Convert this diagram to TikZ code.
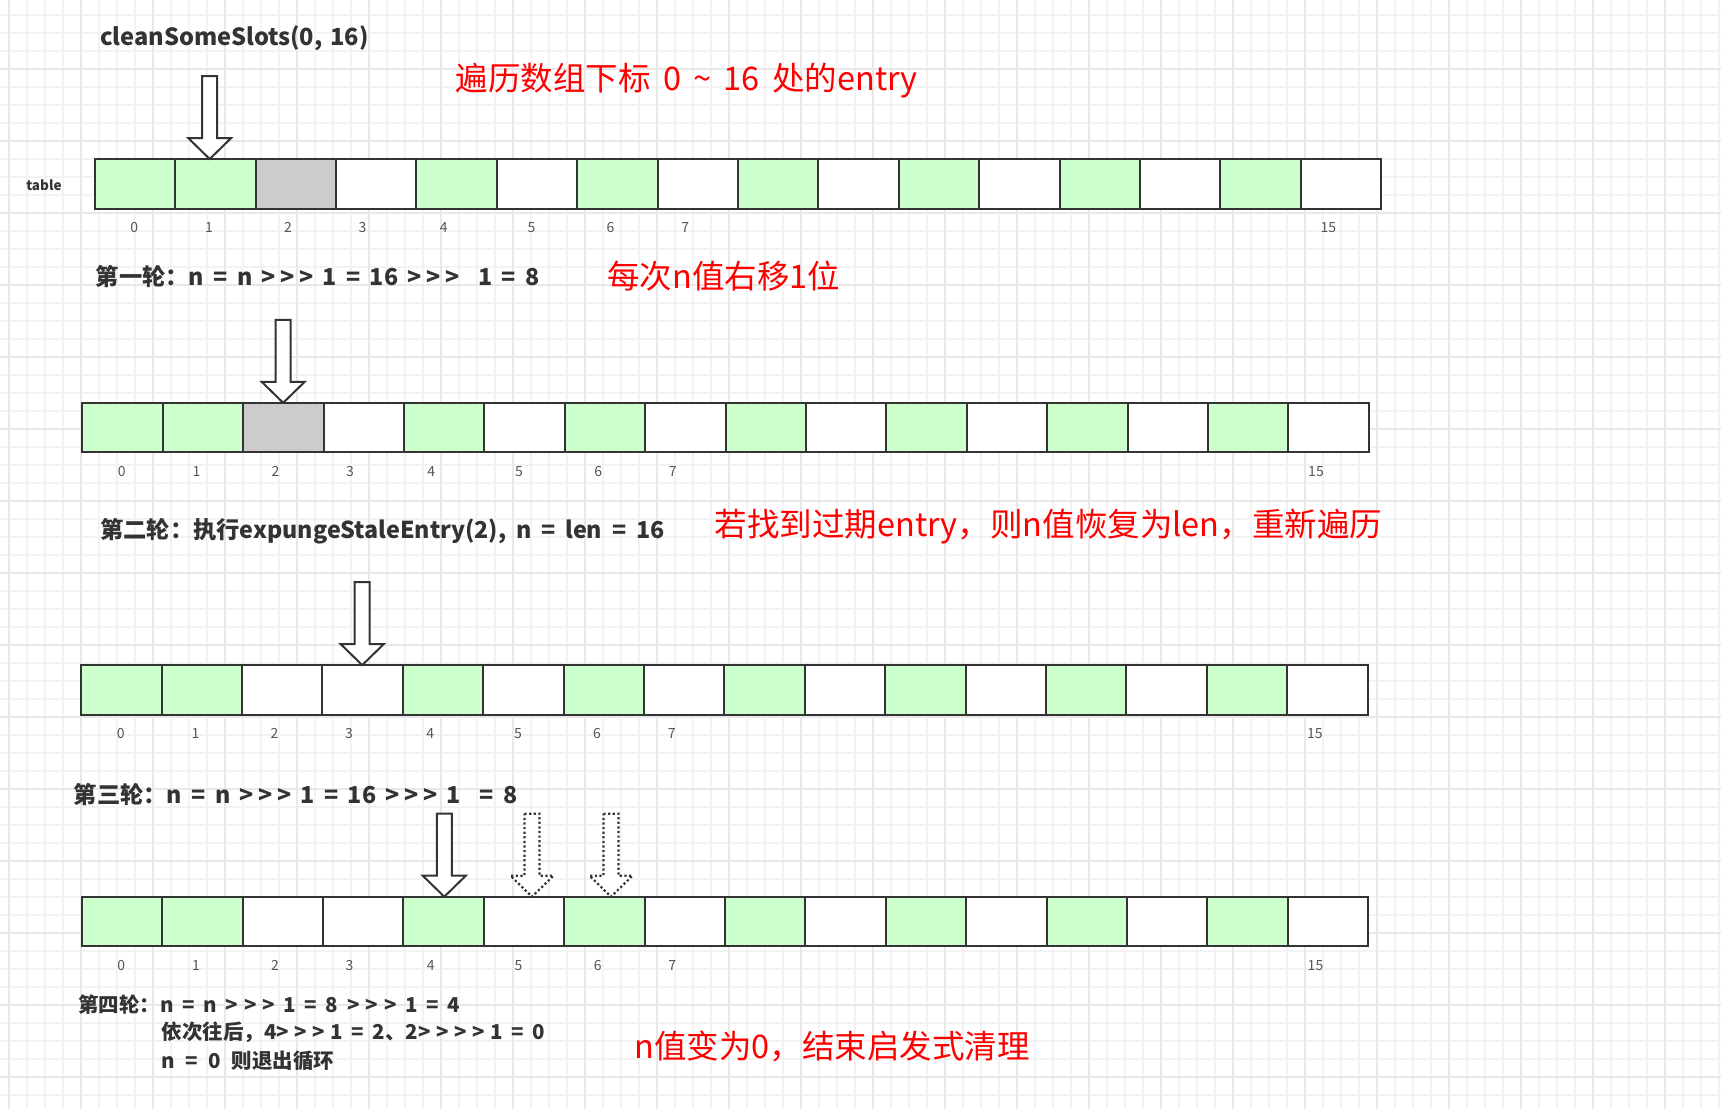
\documentclass[tikz,border=0pt]{standalone}
\usepackage{fontspec}
\setmainfont{Noto Sans CJK SC}[Ligatures=TeXOff]
\definecolor{cgreen}{HTML}{CCFFCC}
\definecolor{cgrey}{HTML}{CCCCCC}
\definecolor{ink}{HTML}{333333}
\definecolor{idxc}{HTML}{555555}
\definecolor{gminor}{HTML}{F3F3F3}
\definecolor{gmajor}{HTML}{E8E8E8}
\definecolor{redtext}{HTML}{FF0000}
\tikzset{
  cell/.style={draw=ink,line width=2pt,minimum width=80.4pt,minimum height=49.5pt,inner sep=0pt,outer sep=0pt,anchor=north west},
  idx/.style={text=idxc,font=\fontsize{14}{15}\selectfont,inner sep=0pt},
  lbl/.style={text=ink,font=\bfseries\fontsize{23.3}{26}\selectfont,inner sep=0pt,anchor=west},
  small/.style={text=ink,font=\bfseries\fontsize{20.5}{23}\selectfont,inner sep=0pt,anchor=west},
  note/.style={text=redtext,font=\fontsize{32.5}{36}\selectfont,inner sep=0pt,anchor=west},
  barrow/.style={draw=ink,line width=2pt,fill=white,line join=miter},
  darrow/.style={draw=ink,line width=2.2pt,dash pattern=on 2.2pt off 2.4pt,fill=white},
  blockarrow/.pic={\path[pic actions] (-7.5,-83) -- (7.5,-83) -- (7.5,-21) -- (21.5,-21) -- (0,0) -- (-21.5,-21) -- (-7.5,-21) -- cycle;}
}
\newcommand\tabrow[4]{%
  \foreach \i/\c in {0/cgreen,1/cgreen,2/#4,3/white,4/cgreen,5/white,6/cgreen,7/white,8/cgreen,9/white,10/cgreen,11/white,12/cgreen,13/white,14/cgreen,15/white}
    \node[cell,fill=\c] (#1c\i) at ({#2+80.4*\i},#3) {};
  \foreach \n/\o in {0/39.5,1/114.2,2/193.2,3/267.8,4/349,5/436.8,6/515.9,7/590.5,15/1233.7}
    \node[idx] (#1i\n) at ({#2+\o},{#3+49.5+19}) {\n};
}
\newcommand\gapsp{\hspace{0.34em}}
\newcommand\wsp{\hspace{0.42em}}
\newcommand\lsp{\hspace{0.4em}}
\newcommand\gk{\kern0.3em}
\newcommand\gkl{\kern0.2em}
\newcommand\gks{\kern0.27em}
\newcommand\nsp{\hspace{0.52em}}
\begin{document}
\begin{tikzpicture}[x=1pt,y=-1pt]
\useasboundingbox (0,0) rectangle (1721,1109);
\fill[white] (0,0) rectangle (1721,1109);
% grid
\foreach \k in {0,...,95} \draw[gminor,line width=1.2pt] ({9+18*\k},0) -- ({9+18*\k},1109);
\foreach \k in {0,...,61} \draw[gminor,line width=1.2pt] (0,{15+18*\k}) -- (1721,{15+18*\k});
\foreach \k in {0,...,23} \draw[gmajor,line width=1.3pt] ({9+72*\k},0) -- ({9+72*\k},1109);
\foreach \k in {1,...,15} \draw[gmajor,line width=1.3pt] (0,{-3+72*\k}) -- (1721,{-3+72*\k});

% title
\node[lbl,font=\bfseries\fontsize{23.6}{26}\selectfont] (title) at (99.9,38.5) {cleanSomeSlots(0,\gapsp{}16)};
\node[note] (n1) at (455.5,80.5) {遍历数组下标\hspace{0.38em}0\hspace{0.38em}\textasciitilde\hspace{0.38em}16\hspace{0.38em}处的entry};
\node[text=ink,font=\bfseries\fontsize{13.5}{14}\selectfont,inner sep=0pt] (tbl) at (43.9,185.5) {table};

% row 1
\tabrow{a}{94.7}{159}{cgrey}
\pic[barrow] at (209.7,159) {blockarrow};
\node[lbl] (t1) at (95.5,276.5) {第一轮：n\lsp{}=\lsp{}n\lsp{}>\gkl>\gkl>\lsp{}1\lsp{}=\lsp{}16\lsp{}>\gkl>\gkl>\lsp{}\lsp{}1\lsp{}=\lsp{}8};
\node[note] (n2) at (607,276) {每次n值右移1位};

% row 2
\tabrow{b}{82.3}{402.8}{cgrey}
\pic[barrow] at (283.2,402.8) {blockarrow};
\node[lbl] (t2) at (99.9,531) {第二轮：执行expungeStaleEntry(2),\wsp{}n\wsp{}=\wsp{}len\wsp{}=\wsp{}16};
\node[note] (n3) at (714.5,527) {若找到过期entry，则n值恢复为len，重新遍历};

% row 3
\tabrow{c}{81.2}{665.1}{white}
\pic[barrow] at (362.2,665.1) {blockarrow};
\node[lbl] (t3) at (73.5,794.5) {第三轮：n\lsp{}=\lsp{}n\lsp{}>\gkl>\gkl>\lsp{}1\lsp{}=\lsp{}16\lsp{}>\gkl>\gkl>\lsp{}1\lsp{}\lsp{}=\lsp{}8};

% row 4
\tabrow{d}{81.8}{896.7}{white}
\pic[barrow] at (444.3,896.7) {blockarrow};
\pic[darrow] at (532,896.7) {blockarrow};
\pic[darrow] at (611,896.7) {blockarrow};
\node[small] (t4a) at (77.9,1005) {第四轮：n\wsp{}=\wsp{}n\wsp{}>\gk>\gk>\wsp{}1\wsp{}=\wsp{}8\wsp{}>\gk>\gk>\wsp{}1\wsp{}=\wsp{}4};
\node[small] (t4b) at (161.3,1032.5) {依次往后，4>\gks>\gks>\gks{}1\wsp{}=\wsp{}2、2>\gks>\gks>\gks>\gks{}1\wsp{}=\wsp{}0};
\node[small] (t4c) at (161.3,1061) {n\nsp{}=\nsp{}0\nsp{}则退出循环};
\node[note] (n4) at (634.4,1046.5) {n值变为0，结束启发式清理};
\end{tikzpicture}
\end{document}
